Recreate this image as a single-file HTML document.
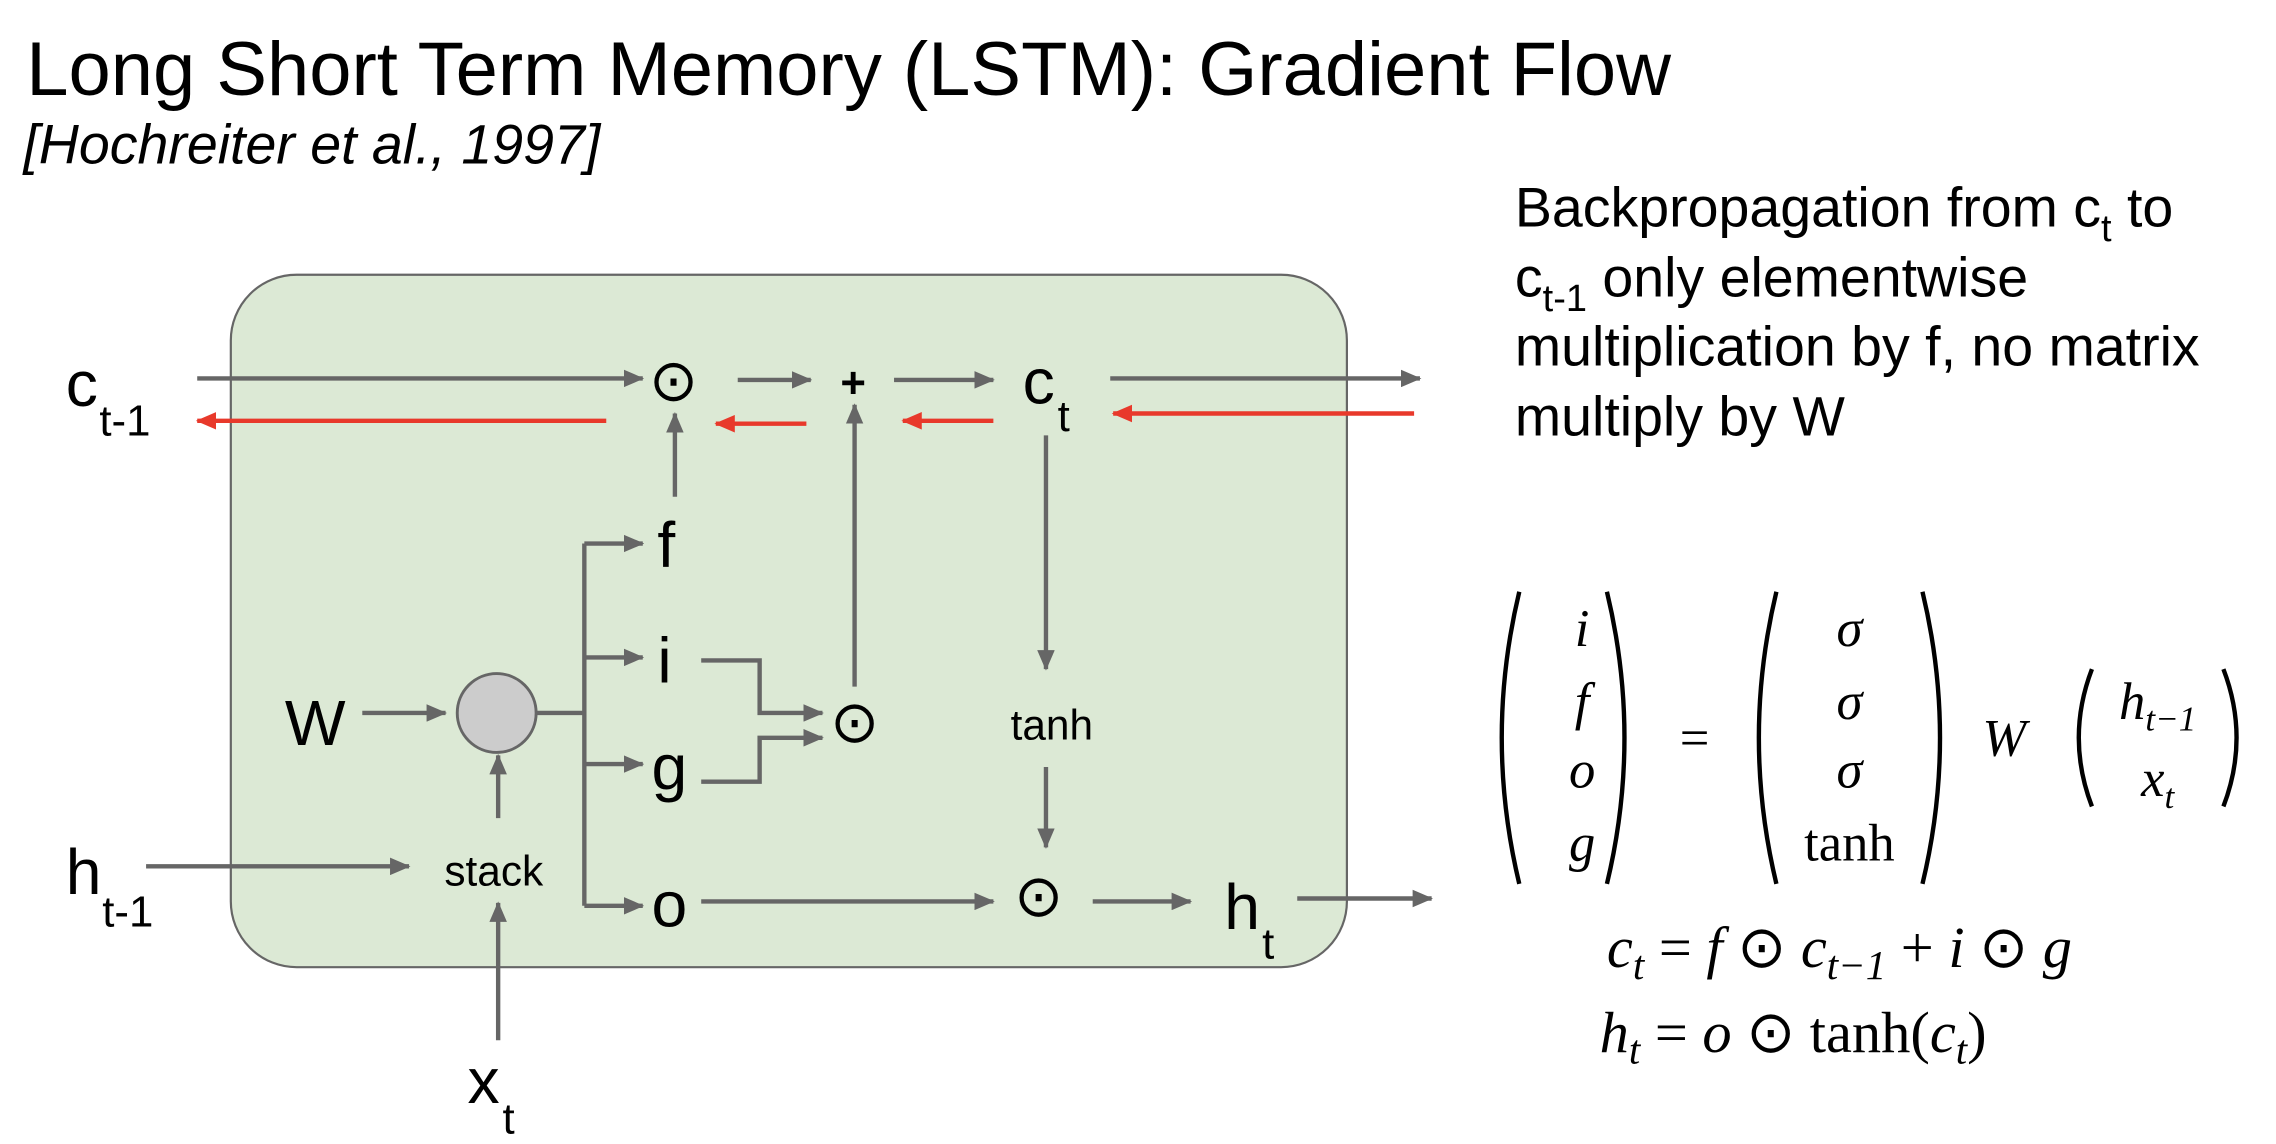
<!DOCTYPE html>
<html><head><meta charset="utf-8"><style>
html,body{margin:0;padding:0;background:#fff;}
svg{display:block}
text{font-family:"Liberation Sans",sans-serif;fill:#000}
.s{font-family:"Liberation Serif",serif;font-style:italic}
.r{font-family:"Liberation Serif",serif}
</style></head><body>
<svg width="2276" height="1144" viewBox="0 0 1558 783" xmlns="http://www.w3.org/2000/svg">
<defs>
<marker id="g" markerWidth="14" markerHeight="12" refX="13" refY="6" orient="auto" markerUnits="userSpaceOnUse" viewBox="0 0 14 12"><path d="M0,0L14,6L0,12z" fill="#666"/></marker>
<marker id="rd" markerWidth="14" markerHeight="12" refX="13" refY="6" orient="auto" markerUnits="userSpaceOnUse" viewBox="0 0 14 12"><path d="M0,0L14,6L0,12z" fill="#e8392b"/></marker>
</defs>
<text x="18" y="65" font-size="52">Long Short Term Memory (LSTM): Gradient Flow</text>
<text x="16" y="112" font-size="38" font-style="italic">[Hochreiter et al., 1997]</text>
<rect x="158" y="188" width="764" height="474" rx="45" fill="#dce9d5" stroke="#666" stroke-width="1.5"/>
<g stroke="#666" stroke-width="3" fill="none">
<line x1="135" y1="259" x2="440" y2="259" marker-end="url(#g)"/>
<line x1="505" y1="260" x2="555" y2="260" marker-end="url(#g)"/>
<line x1="612" y1="260" x2="680" y2="260" marker-end="url(#g)"/>
<line x1="760" y1="259" x2="972" y2="259" marker-end="url(#g)"/>
<line x1="462" y1="340" x2="462" y2="283" marker-end="url(#g)"/>
<line x1="585" y1="470" x2="585" y2="277" marker-end="url(#g)"/>
<line x1="716" y1="298" x2="716" y2="458" marker-end="url(#g)"/>
<line x1="716" y1="525" x2="716" y2="580" marker-end="url(#g)"/>
<line x1="367" y1="488" x2="400" y2="488"/>
<line x1="400" y1="372" x2="400" y2="620"/>
<line x1="400" y1="372" x2="440" y2="372" marker-end="url(#g)"/>
<line x1="400" y1="450" x2="440" y2="450" marker-end="url(#g)"/>
<line x1="400" y1="523" x2="440" y2="523" marker-end="url(#g)"/>
<line x1="400" y1="620" x2="440" y2="620" marker-end="url(#g)"/>
<line x1="248" y1="488" x2="305" y2="488" marker-end="url(#g)"/>
<line x1="341" y1="560" x2="341" y2="517" marker-end="url(#g)"/>
<line x1="100" y1="593" x2="280" y2="593" marker-end="url(#g)"/>
<line x1="341" y1="712" x2="341" y2="618" marker-end="url(#g)"/>
<polyline points="480,452 520,452 520,488 563,488" marker-end="url(#g)"/>
<polyline points="480,535 520,535 520,505 563,505" marker-end="url(#g)"/>
<line x1="480" y1="617" x2="680" y2="617" marker-end="url(#g)"/>
<line x1="748" y1="617" x2="815" y2="617" marker-end="url(#g)"/>
<line x1="888" y1="615" x2="980" y2="615" marker-end="url(#g)"/>
</g>
<g stroke="#e8392b" stroke-width="3">
<line x1="415" y1="288" x2="135" y2="288" marker-end="url(#rd)"/>
<line x1="552" y1="290" x2="490" y2="290" marker-end="url(#rd)"/>
<line x1="680" y1="288" x2="618" y2="288" marker-end="url(#rd)"/>
<line x1="968" y1="283" x2="762" y2="283" marker-end="url(#rd)"/>
</g>
<circle cx="340" cy="488" r="27" fill="#ccc" stroke="#666" stroke-width="2"/>
<g font-size="40" text-anchor="middle">
<text x="461" y="274">⊙</text><text x="584" y="272" font-size="30" font-weight="bold">+</text>
<text x="585" y="508">⊙</text><text x="711" y="627">⊙</text>
</g>
<text x="45" y="278" font-size="44">c</text><text x="68" y="298" font-size="30">t-1</text>
<text x="700" y="276" font-size="44">c</text><text x="724" y="295" font-size="30">t</text>
<text x="45" y="612" font-size="44">h</text><text x="70" y="634" font-size="30">t-1</text>
<text x="838" y="636" font-size="44">h</text><text x="864" y="656" font-size="30">t</text>
<text x="320" y="755" font-size="44">x</text><text x="344" y="776" font-size="30">t</text>
<text x="195" y="510" font-size="44">W</text>
<g font-size="44"><text x="450" y="388">f</text><text x="450" y="467">i</text><text x="446" y="540">g</text><text x="446" y="634">o</text></g>
<text x="720" y="506" font-size="29" text-anchor="middle">tanh</text>
<text x="338" y="606" font-size="29" text-anchor="middle">stack</text>
<g font-size="38">
<text x="1037" y="155">Backpropagation from c<tspan font-size="26" dy="10">t</tspan><tspan dy="-10"> to</tspan></text>
<text x="1037" y="203">c<tspan font-size="26" dy="10">t-1</tspan><tspan dy="-10"> only elementwise</tspan></text>
<text x="1037" y="250">multiplication by f, no matrix</text>
<text x="1037" y="298">multiply by W</text>
</g>
<g stroke="#000" stroke-width="3" fill="none">
<path d="M1040,405 Q1016,505 1040,605"/><path d="M1100,405 Q1124,505 1100,605"/>
<path d="M1216,405 Q1192,505 1216,605"/><path d="M1316,405 Q1340,505 1316,605"/>
<path d="M1432,458 Q1414,505 1432,552"/><path d="M1522,458 Q1540,505 1522,552"/>
</g>
<g font-size="36" text-anchor="middle">
<text class="s" x="1083" y="442">i</text><text class="s" x="1083" y="492">f</text>
<text class="s" x="1083" y="539">o</text><text class="s" x="1083" y="589">g</text>
<text class="r" x="1160" y="517">=</text>
<text class="s" x="1266" y="442">σ</text><text class="s" x="1266" y="492">σ</text>
<text class="s" x="1266" y="539">σ</text><text class="r" x="1266" y="589">tanh</text>
<text class="s" x="1372" y="517">W</text>
<text class="s" x="1477" y="492">h<tspan font-size="24" dy="8">t−1</tspan></text>
<text class="s" x="1477" y="545">x<tspan font-size="24" dy="8">t</tspan></text>
</g>
<g font-size="40">
<text x="1100" y="662"><tspan class="s">c</tspan><tspan class="s" font-size="28" dy="8">t</tspan><tspan class="r" dy="-8"> = </tspan><tspan class="s">f</tspan><tspan class="r"> ⊙ </tspan><tspan class="s">c</tspan><tspan class="s" font-size="28" dy="8">t−1</tspan><tspan class="r" dy="-8"> + </tspan><tspan class="s">i</tspan><tspan class="r"> ⊙ </tspan><tspan class="s">g</tspan></text>
<text x="1095" y="720"><tspan class="s">h</tspan><tspan class="s" font-size="28" dy="8">t</tspan><tspan class="r" dy="-8"> = </tspan><tspan class="s">o</tspan><tspan class="r"> ⊙ tanh(</tspan><tspan class="s">c</tspan><tspan class="s" font-size="28" dy="8">t</tspan><tspan class="r" dy="-8">)</tspan></text>
</g>
</svg>
</body></html>
